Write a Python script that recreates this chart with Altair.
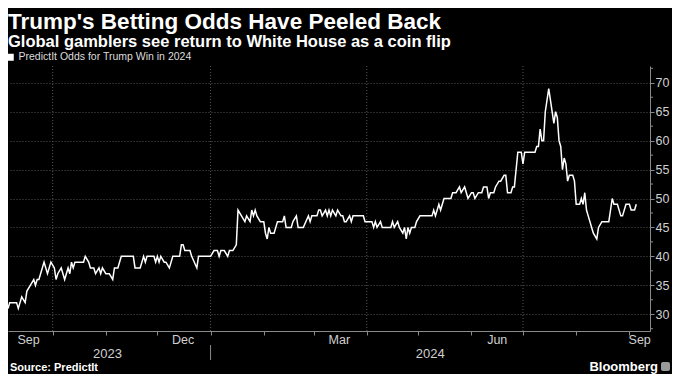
import altair as alt
import pandas as pd

# ---------------- data ----------------
dates = [
    "2023-09-05", "2023-09-06", "2023-09-10", "2023-09-11", "2023-09-13", "2023-09-15", "2023-09-16",
    "2023-09-18", "2023-09-20", "2023-09-21", "2023-09-22", "2023-09-23", "2023-09-26", "2023-09-28",
    "2023-09-30", "2023-10-02", "2023-10-03", "2023-10-04", "2023-10-06", "2023-10-07", "2023-10-08",
    "2023-10-10", "2023-10-11", "2023-10-12", "2023-10-13", "2023-10-14", "2023-10-19", "2023-10-20",
    "2023-10-22", "2023-10-23", "2023-10-25", "2023-10-26", "2023-10-28", "2023-10-29", "2023-10-30",
    "2023-11-01", "2023-11-03", "2023-11-05", "2023-11-06", "2023-11-08", "2023-11-10", "2023-11-17",
    "2023-11-18", "2023-11-21", "2023-11-23", "2023-11-24", "2023-11-25", "2023-11-29", "2023-11-30",
    "2023-12-01", "2023-12-02", "2023-12-03", "2023-12-05", "2023-12-06", "2023-12-08", "2023-12-10",
    "2023-12-14", "2023-12-15", "2023-12-16", "2023-12-17", "2023-12-20", "2023-12-21", "2023-12-24",
    "2023-12-25", "2024-01-01", "2024-01-03", "2024-01-05", "2024-01-06", "2024-01-07", "2024-01-09",
    "2024-01-11", "2024-01-12", "2024-01-14", "2024-01-16", "2024-01-17", "2024-01-19", "2024-01-21",
    "2024-01-22", "2024-01-24", "2024-01-25", "2024-01-26", "2024-01-27", "2024-01-28", "2024-01-30",
    "2024-02-01", "2024-02-02", "2024-02-03", "2024-02-04", "2024-02-05", "2024-02-07", "2024-02-09",
    "2024-02-12", "2024-02-13", "2024-02-14", "2024-02-17", "2024-02-18", "2024-02-20", "2024-02-21",
    "2024-02-24", "2024-02-27", "2024-02-28", "2024-02-29", "2024-03-03", "2024-03-04", "2024-03-05",
    "2024-03-06", "2024-03-08", "2024-03-09", "2024-03-10", "2024-03-11", "2024-03-12", "2024-03-14",
    "2024-03-15", "2024-03-17", "2024-03-18", "2024-03-19", "2024-03-20", "2024-03-22", "2024-03-23",
    "2024-03-24", "2024-03-30", "2024-03-31", "2024-04-04", "2024-04-05", "2024-04-06", "2024-04-07",
    "2024-04-09", "2024-04-10", "2024-04-15", "2024-04-16", "2024-04-17", "2024-04-19", "2024-04-20",
    "2024-04-22", "2024-04-23", "2024-04-24", "2024-04-25", "2024-04-26", "2024-04-27", "2024-04-29",
    "2024-04-30", "2024-05-02", "2024-05-09", "2024-05-10", "2024-05-11", "2024-05-13", "2024-05-14",
    "2024-05-16", "2024-05-20", "2024-05-21", "2024-05-23", "2024-05-25", "2024-05-26", "2024-05-28",
    "2024-05-30", "2024-06-01", "2024-06-02", "2024-06-03", "2024-06-05", "2024-06-07", "2024-06-08",
    "2024-06-10", "2024-06-11", "2024-06-12", "2024-06-14", "2024-06-15", "2024-06-17", "2024-06-18",
    "2024-06-20", "2024-06-21", "2024-06-22", "2024-06-24", "2024-06-25", "2024-06-26", "2024-06-28",
    "2024-06-30", "2024-07-01", "2024-07-02", "2024-07-08", "2024-07-09", "2024-07-10", "2024-07-11",
    "2024-07-12", "2024-07-13", "2024-07-14", "2024-07-16", "2024-07-17", "2024-07-19", "2024-07-20",
    "2024-07-21", "2024-07-22", "2024-07-23", "2024-07-24", "2024-07-25", "2024-07-26", "2024-07-27",
    "2024-07-28", "2024-07-30", "2024-07-31", "2024-08-01", "2024-08-03", "2024-08-04", "2024-08-05",
    "2024-08-06", "2024-08-07", "2024-08-08", "2024-08-09", "2024-08-10", "2024-08-11", "2024-08-13",
    "2024-08-14", "2024-08-16", "2024-08-20", "2024-08-22", "2024-08-23", "2024-08-25", "2024-08-27",
    "2024-08-28", "2024-08-30", "2024-09-01", "2024-09-02", "2024-09-04", "2024-09-05",
]
odds = [
    31, 32, 32, 31, 33, 32, 34,
    35, 36, 35, 36, 36, 39, 37,
    39, 38, 36, 37, 38, 37, 36,
    38, 37, 39, 38, 39, 39, 40,
    39, 38, 38, 37, 38, 37, 38,
    37, 37, 36, 38, 38, 40, 40,
    38, 38, 40, 39, 40, 40, 39,
    40, 39, 40, 39, 39, 38, 40,
    40, 42, 42, 41, 41, 40, 38,
    40, 40, 41, 41, 40, 41, 41,
    40, 41, 41, 42, 48, 47, 46,
    47, 46, 48, 47, 48, 47, 46,
    46, 44, 43, 45, 44, 44, 46,
    46, 47, 45, 45, 46, 47, 45,
    45, 47, 46, 47, 47, 48, 48,
    47, 48, 47, 48, 47, 48, 47,
    48, 47, 47, 46, 46, 47, 46,
    47, 47, 46, 46, 45, 46, 45,
    46, 45, 45, 46, 45, 46, 45,
    44, 45, 43, 45, 44, 45, 45,
    46, 47, 47, 48, 47, 49, 48,
    50, 50, 51, 51, 52, 51, 52,
    50, 51, 51, 50, 51, 51, 52,
    52, 50, 51, 51, 52, 53, 53,
    54, 54, 51, 51, 52, 52, 58,
    58, 56, 58, 58, 59, 59, 62,
    60, 60, 65, 69, 67, 63, 65,
    64, 60, 59, 55, 57, 56, 53,
    54, 54, 53, 49, 49, 50, 49,
    51, 48, 47, 46, 45, 44, 43,
    45, 46, 46, 50, 49, 49, 47,
    47, 49, 49, 48, 48, 49,
]
series_name = "PredictIt Odds for Trump Win in 2024"

title_text = "Trump's Betting Odds Have Peeled Back"
subtitle_text = "Global gamblers see return to White House as a coin flip"
source_text = "Source: PredictIt"
brand_text = "Bloomberg"

quarter_starts = ["2023-10-01", "2024-01-01", "2024-04-01", "2024-07-01"]
month_ticks = [(2023, 10), (2023, 11), (2023, 12), (2024, 1), (2024, 2), (2024, 3),
               (2024, 4), (2024, 5), (2024, 6), (2024, 7), (2024, 8), (2024, 9)]
month_label_dates = ["2023-09-17", "2023-12-16", "2024-03-16", "2024-06-16", "2024-09-07"]
month_labels = ["Sep", "Dec", "Mar", "Jun", "Sep"]
year_label_dates = ["2023-11-02", "2024-05-08"]
year_labels = ["2023", "2024"]
year_breaks = ["2024-01-01"]
y_ticks = [30, 35, 40, 45, 50, 55, 60, 65, 70]
y_minor = [27.5, 32.5, 37.5, 42.5, 47.5, 52.5, 57.5, 62.5, 67.5, 72.5]

# ---------------- layout ----------------
W, H = 642, 265
FONT = "Liberation Sans"
GRID = "#555555"
AX = "#8a8a8a"

x_scale = alt.Scale(type="utc",
                    domain=[alt.DateTime(year=2023, month=9, date=5, utc=True),
                            alt.DateTime(year=2024, month=9, date=13, utc=True)])
y_scale = alt.Scale(domain=[27.1, 72.9], nice=False, zero=False)

x_axis = alt.Axis(values=[alt.DateTime(year=y, month=m, date=1, utc=True) for y, m in month_ticks],
                  labels=False, title=None, grid=False, tickSize=4, tickColor=AX,
                  domainColor=AX, domainWidth=1)
y_axis = alt.Axis(orient="right", values=y_ticks, title=None, grid=True, gridColor=GRID,
                  gridDash=[1, 2], gridWidth=1, tickSize=4, tickColor=AX, domainColor=AX,
                  labelColor="#d0d0d0", labelFontSize=12.5, labelFont=FONT, labelPadding=1)

line_df = pd.DataFrame({"date": dates, "odds": odds, "series": series_name})

def X(field="date"):
    return alt.X(f"{field}:T", scale=x_scale, axis=x_axis)

grid_v = alt.Chart(pd.DataFrame({"date": quarter_starts})).mark_rule(
    color=GRID, strokeDash=[1, 2], strokeWidth=1
).encode(x=X())

line = alt.Chart(line_df).mark_line(color="#ffffff", strokeWidth=1.5, interpolate="linear").encode(
    x=X(),
    y=alt.Y("odds:Q", scale=y_scale, axis=y_axis),
    color=alt.Color("series:N", scale=alt.Scale(range=["#ffffff"]),
                    legend=alt.Legend(orient="none", legendX=-3, legendY=-14, title=None,
                                      symbolType="square", symbolSize=49,
                                      symbolFillColor="#ffffff", symbolStrokeWidth=0,
                                      labelColor="#dddddd", labelFontSize=10.5, labelFont=FONT,
                                      labelOffset=3, labelLimit=400, padding=0)),
)

minor_y = alt.Chart(pd.DataFrame({"v": y_minor})).mark_rule(color=AX, strokeWidth=1).encode(
    x=alt.value(W), x2=alt.value(W + 3), y=alt.Y("v:Q", scale=y_scale, axis=y_axis)
)

month_text = alt.Chart(pd.DataFrame({"date": month_label_dates, "lab": month_labels})).mark_text(
    color="#d0d0d0", fontSize=12.5, font=FONT, baseline="middle", align="center"
).encode(x=X(), y=alt.value(H + 9), text="lab:N")

year_text = alt.Chart(pd.DataFrame({"date": year_label_dates, "lab": year_labels})).mark_text(
    color="#d0d0d0", fontSize=13, font=FONT, baseline="middle", align="center"
).encode(x=X(), y=alt.value(H + 23), text="lab:N")

year_sep = alt.Chart(pd.DataFrame({"date": year_breaks})).mark_rule(color=AX, strokeWidth=1).encode(
    x=X(), y=alt.value(H + 14), y2=alt.value(H + 29)
)

def label(txt, x, y, size, weight="normal", align="left", baseline="alphabetic", color="#ffffff"):
    return alt.Chart(pd.DataFrame({"t": [txt]})).mark_text(
        color=color, fontSize=size, fontWeight=weight, font=FONT, align=align, baseline=baseline
    ).encode(x=alt.value(x), y=alt.value(y), text="t:N")

title = label(title_text, 0, -37.5, 22.5, "bold")
subtitle = label(subtitle_text, 0, -19, 16.5, "bold")
source = label(source_text, 2, H + 37, 11, "bold", baseline="middle")
brand = label(brand_text, W + 8, H + 36, 13, "bold", align="right", baseline="middle")
icon = alt.Chart(pd.DataFrame({"t": [brand_text]})).mark_rect(color="#9a9a9a", cornerRadius=2).encode(
    x=alt.value(W + 11), x2=alt.value(W + 20), y=alt.value(H + 31), y2=alt.value(H + 40)
)

chart = alt.layer(
    grid_v, line, minor_y, month_text, year_text, year_sep,
    title, subtitle, source, brand, icon
).properties(
    width=W, height=H,
    autosize=alt.AutoSizeParams(type="none"),
    padding={"left": 0, "top": 58, "right": 22, "bottom": 43},
    background="#000000",
).configure_view(stroke=None)

chart.save("out.html", embed_options={"renderer": "svg", "actions": False})
